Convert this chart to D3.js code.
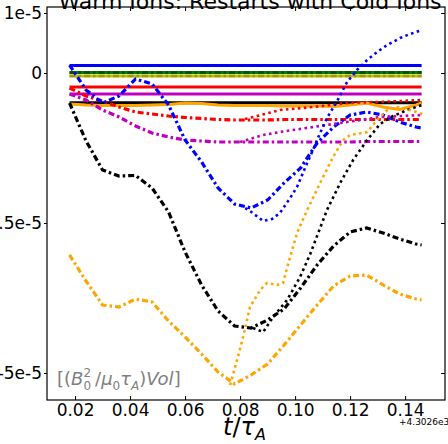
<!DOCTYPE html>
<html>
<head>
<meta charset="utf-8">
<script src="https://cdn.jsdelivr.net/npm/d3@7"></script>
<style>
  body { margin: 0; background: #fff; }
  svg text { font-family: "DejaVu Sans", sans-serif; }
</style>
</head>
<body>
<div id="chart"></div>
<script>
// Configuration
const WIDTH = 448;
const HEIGHT = 444;
const PLOT = { left: 47, right: 445, top: 7, bottom: 400 };
const UNIT = 1e-5; // values below are in units of 1e-5

// Time grid of the base runs (t/tau_A - 4302.6)
const tBase = [0.018, 0.024, 0.030, 0.036, 0.042, 0.048, 0.054, 0.060, 0.066, 0.072, 0.078, 0.084,
               0.090, 0.096, 0.102, 0.108, 0.114, 0.120, 0.126, 0.132, 0.138, 0.144, 0.146];

// Solid lines (base run, first quantity)
const blueSolid    = [0.125, 0.125, 0.125, 0.125, 0.125, 0.125, 0.125, 0.125, 0.125, 0.125, 0.125, 0.125, 0.125, 0.125, 0.125, 0.125, 0.125, 0.125, 0.125, 0.125, 0.125, 0.125, 0.125];
const greenSolid   = [0.008, 0.008, 0.008, 0.008, 0.008, 0.008, 0.008, 0.008, 0.008, 0.008, 0.008, 0.008, 0.008, 0.008, 0.008, 0.008, 0.008, 0.008, 0.008, 0.008, 0.008, 0.008, 0.008];
const yellowSolid  = [-0.05, -0.05, -0.05, -0.05, -0.05, -0.05, -0.05, -0.05, -0.05, -0.05, -0.05, -0.05, -0.05, -0.05, -0.05, -0.05, -0.05, -0.05, -0.05, -0.05, -0.05, -0.05, -0.05];
const redSolid     = [-0.233, -0.233, -0.233, -0.233, -0.233, -0.233, -0.233, -0.233, -0.233, -0.233, -0.233, -0.233, -0.233, -0.233, -0.233, -0.233, -0.233, -0.233, -0.233, -0.233, -0.233, -0.233, -0.233];
const magentaSolid = [-0.35, -0.35, -0.35, -0.35, -0.35, -0.35, -0.35, -0.35, -0.35, -0.35, -0.35, -0.35, -0.35, -0.35, -0.35, -0.35, -0.35, -0.35, -0.35, -0.35, -0.35, -0.35, -0.35];
const blackSolid   = [-0.495, -0.495, -0.495, -0.495, -0.495, -0.495, -0.495, -0.495, -0.495, -0.495, -0.495, -0.495, -0.495, -0.495, -0.495, -0.495, -0.495, -0.495, -0.495, -0.495, -0.495, -0.495, -0.495];
const orangeSolid  = [-0.517, -0.533, -0.542, -0.542, -0.542, -0.533, -0.525, -0.5, -0.508, -0.533, -0.542, -0.542, -0.542, -0.55, -0.55, -0.55, -0.558, -0.533, -0.5, -0.567, -0.608, -0.533, -0.5];

// Dash-dot lines (base run, second quantity)
const blueDashDot    = [0.133, -0.283, -0.5, -0.383, -0.1, -0.183, -0.533, -1.117, -1.483, -1.917, -2.183, -2.25, -2.117, -1.833, -1.583, -1.167, -0.9, -0.7, -0.65, -0.7, -0.817, -0.9, -0.917];
const greenDashDot   = [0.008, 0.008, 0.008, 0.008, 0.008, 0.008, 0.008, 0.008, 0.008, 0.008, 0.008, 0.008, 0.008, 0.008, 0.008, 0.008, 0.008, 0.008, 0.008, 0.008, 0.008, 0.008, 0.008];
const yellowDashDot  = [-0.05, -0.05, -0.05, -0.05, -0.05, -0.05, -0.05, -0.05, -0.05, -0.05, -0.05, -0.05, -0.05, -0.05, -0.05, -0.05, -0.05, -0.05, -0.05, -0.05, -0.05, -0.05, -0.05];
const redDashDot     = [-0.25, -0.383, -0.467, -0.567, -0.65, -0.683, -0.717, -0.742, -0.758, -0.775, -0.783, -0.783, -0.783, -0.775, -0.775, -0.775, -0.775, -0.775, -0.775, -0.775, -0.775, -0.775, -0.775];
const magentaDashDot = [-0.35, -0.45, -0.617, -0.733, -0.883, -1.0, -1.067, -1.117, -1.133, -1.15, -1.15, -1.15, -1.15, -1.15, -1.15, -1.15, -1.15, -1.15, -1.142, -1.142, -1.142, -1.142, -1.142];
const blackDashDot   = [-0.5, -1.133, -1.617, -1.717, -1.708, -1.917, -2.317, -2.983, -3.533, -3.967, -4.217, -4.25, -4.117, -3.933, -3.583, -3.2, -2.883, -2.65, -2.583, -2.667, -2.767, -2.85, -2.867];
const orangeDashDot  = [-3.033, -3.467, -3.867, -3.9, -3.767, -3.817, -4.133, -4.4, -4.683, -4.983, -5.183, -5.033, -4.85, -4.533, -4.2, -3.867, -3.55, -3.383, -3.367, -3.533, -3.683, -3.767, -3.783];

// Dotted lines (restarts with cold ions)
const tBlueRestart = [0.0800, 0.0836, 0.0884, 0.0916, 0.0945, 0.0982, 0.1007, 0.1036, 0.1065, 0.1091, 0.1116, 0.1153, 0.1189, 0.1225, 0.1262, 0.1298, 0.1335, 0.1382, 0.1418, 0.1462];
const blueRestart  = [-2.2, -2.3, -2.467, -2.433, -2.333, -2.083, -1.9, -1.583, -1.283, -1.0, -0.75, -0.467, -0.15, 0.05, 0.217, 0.35, 0.467, 0.583, 0.65, 0.717];
const tBlackRestart = [0.0847, 0.0884, 0.0920, 0.0971, 0.1018, 0.1055, 0.1091, 0.1116, 0.1164, 0.1211, 0.1262, 0.1309, 0.1356, 0.1418, 0.1462];
const blackRestart  = [-4.25, -4.317, -4.067, -3.783, -3.4, -3.017, -2.583, -2.283, -1.833, -1.45, -1.117, -0.85, -0.717, -0.6, -0.533];
const tOrangeRestart = [0.0764, 0.0789, 0.0811, 0.0836, 0.0873, 0.0898, 0.0935, 0.0956, 0.0982, 0.1007, 0.1044, 0.1091, 0.1138, 0.1175, 0.1200, 0.1262, 0.1298, 0.1335, 0.1371, 0.1418, 0.1462];
const orangeRestart  = [-5.2, -4.783, -4.4, -3.9, -3.617, -3.5, -3.533, -3.5, -3.067, -2.667, -2.283, -1.833, -1.4, -1.117, -1.033, -0.983, -0.783, -0.617, -0.567, -0.617, -0.683];
const tRedRestart = [0.0818, 0.0862, 0.0945, 0.1065, 0.1189, 0.1298, 0.1382, 0.1465];
const redRestart  = [-0.767, -0.717, -0.617, -0.567, -0.5, -0.483, -0.467, -0.45];
const tMagentaRestart = [0.0800, 0.0884, 0.0945, 0.1065, 0.1189, 0.1309, 0.1462];
const magentaRestart  = [-1.15, -1.033, -0.983, -0.9, -0.817, -0.733, -0.7];

// Axis ticks
const xTicks = [0.02, 0.04, 0.06, 0.08, 0.10, 0.12, 0.14];
const yTicks = [1, 0, -2.5, -5];
const yTickLabels = ["1e-5", "0", "-2.5e-5", "-5e-5"];

// Colours (matplotlib classic)
const C = { b: "#0000ff", g: "#008000", y: "#bfbf00", r: "#ff0000", m: "#bf00bf", k: "#000000", o: "#ffa500" };

// Setup SVG
const svg = d3.select("#chart")
    .append("svg")
    .attr("width", WIDTH)
    .attr("height", HEIGHT);

const x = d3.scaleLinear().domain([0.0098, 0.1545]).range([PLOT.left, PLOT.right]);
const y = d3.scaleLinear().domain([0, -5]).range([73, 373]);

svg.append("clipPath").attr("id", "clip")
    .append("rect")
    .attr("x", PLOT.left).attr("y", PLOT.top)
    .attr("width", PLOT.right - PLOT.left).attr("height", PLOT.bottom - PLOT.top);

const line = d3.line().x(d => x(d[0])).y(d => y(d[1]));
const zip = (ts, vs) => ts.map((t, i) => [t, vs[i]]);

const plot = svg.append("g").attr("clip-path", "url(#clip)");

function drawSeries(ts, vs, color, style) {
    const p = plot.append("path")
        .datum(zip(ts, vs))
        .attr("d", line)
        .attr("fill", "none")
        .attr("stroke", color);
    if (style === "solid") {
        p.attr("stroke-width", 3);
    } else if (style === "dashdot") {
        p.attr("stroke-width", 3.2).attr("stroke-dasharray", "6,3,2.5,3");
    } else {
        p.attr("stroke-width", 2.6).attr("stroke-dasharray", "2.6,3.4");
    }
    return p;
}

// Solid
drawSeries(tBase, blueSolid, C.b, "solid");
drawSeries(tBase, greenSolid, C.g, "solid");
drawSeries(tBase, yellowSolid, C.y, "solid");
drawSeries(tBase, redSolid, C.r, "solid");
drawSeries(tBase, magentaSolid, C.m, "solid");
drawSeries(tBase, blackSolid, C.k, "solid");
drawSeries(tBase, orangeSolid, C.o, "solid");

// Dash-dot
drawSeries(tBase, greenDashDot, "#0a4a0a", "dashdot").attr("stroke-width", 2.5);
drawSeries(tBase, yellowDashDot, "#9a9a10", "dashdot").attr("stroke-width", 2.5);
drawSeries(tBase, redDashDot, C.r, "dashdot");
drawSeries(tBase, magentaDashDot, C.m, "dashdot");
drawSeries(tBase, blackDashDot, C.k, "dashdot");
drawSeries(tBase, blueDashDot, C.b, "dashdot");
drawSeries(tBase, orangeDashDot, C.o, "dashdot");

// Dotted restarts
drawSeries(tRedRestart, redRestart, C.r, "dotted");
drawSeries(tMagentaRestart, magentaRestart, C.m, "dotted");
drawSeries(tBlueRestart, blueRestart, C.b, "dotted");
drawSeries(tBlackRestart, blackRestart, C.k, "dotted");
drawSeries(tOrangeRestart, orangeRestart, C.o, "dotted");

// Axes
const fontTick = "17px";
const xAxis = svg.append("g")
    .attr("transform", `translate(0,${PLOT.bottom})`)
    .call(d3.axisBottom(x).tickValues(xTicks).tickFormat(d3.format(".2f")).tickSizeInner(-4).tickSizeOuter(0).tickPadding(4));
xAxis.select(".domain").remove();
xAxis.selectAll("text").attr("font-size", fontTick).attr("fill", "#000").attr("font-family", "DejaVu Sans");

svg.append("g")
    .attr("transform", `translate(0,${PLOT.top})`)
    .call(d3.axisTop(x).tickValues(xTicks).tickFormat("").tickSizeInner(-4).tickSizeOuter(0))
    .select(".domain").remove();

const yAxis = svg.append("g")
    .attr("transform", `translate(${PLOT.left},0)`)
    .call(d3.axisLeft(y).tickValues(yTicks).tickFormat((d, i) => yTickLabels[i]).tickSizeInner(3).tickSizeOuter(0).tickPadding(2));
yAxis.select(".domain").remove();
yAxis.selectAll("text").attr("font-size", fontTick).attr("fill", "#000").attr("font-family", "DejaVu Sans");

svg.append("g")
    .attr("transform", `translate(${PLOT.right},0)`)
    .call(d3.axisRight(y).tickValues(yTicks).tickFormat("").tickSizeInner(-4).tickSizeOuter(0))
    .select(".domain").remove();

// Frame
svg.append("rect")
    .attr("x", PLOT.left).attr("y", PLOT.top)
    .attr("width", PLOT.right - PLOT.left).attr("height", PLOT.bottom - PLOT.top)
    .attr("fill", "none").attr("stroke", "#000").attr("stroke-width", 1.2);

// Offset text
svg.append("text")
    .attr("x", 399).attr("y", 425)
    .attr("font-size", "9px")
    .text("+4.3026e3");

// Title (cut off at the top)
svg.append("text")
    .attr("x", 250).attr("y", 9)
    .attr("text-anchor", "middle")
    .attr("font-size", "22px")
    .text("Warm Ions: Restarts with Cold Ions");

// x label
const xl = svg.append("text")
    .attr("x", 223).attr("y", 435)
    .attr("font-family", "DejaVu Serif")
    .attr("font-size", "24px")
    .attr("font-style", "italic");
xl.append("tspan").text("t");
xl.append("tspan").attr("font-style", "normal").text("/");
xl.append("tspan").text("τ");
xl.append("tspan").attr("font-size", "16px").attr("dy", 5).text("A");

// Units annotation
const ann = svg.append("text")
    .attr("x", 57).attr("y", 385)
    .attr("font-family", "DejaVu Serif")
    .attr("font-size", "18px")
    .attr("fill", "#808080");
ann.append("tspan").text("[(");
ann.append("tspan").attr("font-style", "italic").text("B");
ann.append("tspan").attr("font-size", "12px").attr("dy", -8).text("2");
ann.append("tspan").attr("font-size", "12px").attr("dx", -7.6).attr("dy", 13).text("0");
ann.append("tspan").attr("dx", 4).attr("dy", -5).text("/");
ann.append("tspan").attr("font-style", "italic").text("μ");
ann.append("tspan").attr("font-size", "12px").attr("dy", 5).text("0");
ann.append("tspan").attr("font-style", "italic").attr("dy", -5).text("τ");
ann.append("tspan").attr("font-size", "12px").attr("font-style", "italic").attr("dy", 5).text("A");
ann.append("tspan").attr("dy", -5).text(")");
ann.append("tspan").attr("font-style", "italic").text("Vol");
ann.append("tspan").text("]");
</script>
</body>
</html>
